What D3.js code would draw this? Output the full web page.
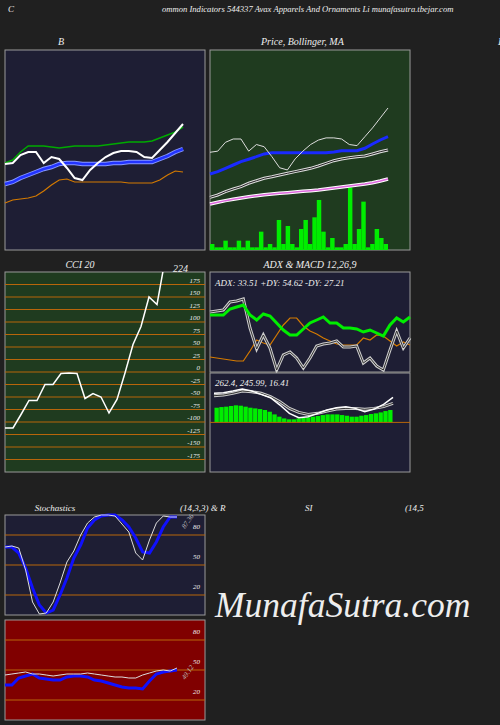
<!DOCTYPE html>
<html><head><meta charset="utf-8">
<script src="https://cdn.jsdelivr.net/npm/d3@7"></script>
<style>body{margin:0;background:#202020}svg{display:block}text{font-family:"Liberation Serif",serif;font-style:italic;fill:#eee}</style>
</head><body>
<script>
// price panel data (24 sessions)
const price=[86,87,95,98,98,87,93,91,82,72,70,80,87,93,97,99,99,98,93,92,100,108,117,126];
const bbUpper=[87,90,98,104,104,104,103,102,103,104,104,104,104,105,106,107,108,108,108,109,112,115,118,123];
const bbMiddle=[66,68,72,75,78,81,83,86,87,87,86,86,86,86,87,87,88,88,88,88,91,94,98,101];
const bbLower=[47,50,51,52,54,59,65,70,71,68,68,68,68,68,68,68,67,67,67,67,70,75,79,78];
const ma20=[66.4,68.5,71.5,74.5,77.5,79.7,82,84.5,85.6,85.6,85.6,85.6,85.6,85.6,85.6,85.6,86.3,87.4,87.4,87.4,89.6,93.5,97.1,100.1];
const ma50=[45.3,47.4,50.4,52.8,54.9,58,60.3,62.5,63.9,65.5,67,68.5,70,71.5,73.6,76,78.4,79.9,81.1,82,82.6,84.5,86.5,88.1];
const ma100=[39.3,40.8,42.3,43.5,44.7,45.9,46.8,47.7,48.3,49,49.5,50.1,50.8,51.3,51.9,52.8,53.7,54.6,55.5,56.4,57.3,58.5,60.1,61.9];
const volume=[18,8,8,28,8,8,28,8,28,8,8,55,8,18,8,90,18,72,18,8,63,90,18,98,150,55,8,36,8,8,18,187,18,63,145,8,18,63,36,18];
// CCI 20
const cci=[-112,-112,-85,-57,-57,-25,-25,-3,-2,-3,-53,-43,-50,-82,-55,-2,55,91,150,135,224];
const cciTicks=[175,150,125,100,75,50,25,0,-25,-50,-75,-100,-125,-150,-175];
// ADX
const plusDI=[57,57,57,63,65,67,57,52,58,56,49,42,37,37,43,49,52,55,49,49,44,44,43,40,42,39,36,47,54,50,55];
const minusDI=[15,14,13,12,11,11,21,32,29,27,37,47,54,54,46,41,38,34,31,28,27,27,27,34,32,37,36,31,26,30,27];
const adx=[60,61,62,70,71,73,44,23,37,24,2,17,20,14,4,14,26,28,29,31,25,25,26,9,14,6,2,22,41,24,34];
// MACD 12,26,9
const macd=[305,312,329,350,329,294,259,182,95,49,60,95,130,154,165,147,112,140,189,262];
const signal=[280,287,305,329,322,305,270,217,147,105,84,95,119,140,147,147,137,147,165,200];
const hist=[154,161,165,172,179,175,165,154,147,140,130,112,84,60,42,32,32,42,49,53,60,67,77,84,84,84,77,70,60,60,70,77,88,95,105,119,130];
// Stochastics and RSI
const stochK=[68,69,67,45,13,1,2,13,32,53,64,80,92,98,100,100,99,91,83,62,55,75,92,99,98,98];
const stochD=[68,68,62,47,27,10,2,5,20,37,57,70,87,95,99,100,100,95,88,77,63,62,73,88,98,98];
const rsi=[45,46,47,48,46,46,45,44,45,46,46,46,47,46,45,44,43,43,42,42,45,47,49,50,49,52];
const mfi=[35,35,42,44,46,42,41,40,40,43,44,44,43,40,39,37,35,33,32,32,31,39,46,48,49,50];
const levels=[80,50,20];

const svg=d3.select("body").append("svg").attr("width",500).attr("height",725);
const orange="#b8660b";

function panel(x,y,w,h,fill){
 svg.append("rect").attr("x",x).attr("y",y).attr("width",w).attr("height",h).attr("fill",fill).attr("stroke","#999").attr("stroke-width",1);
}
function text(x,y,t,size=11,anchor="start",fill="#eee"){
 return svg.append("text").attr("x",x).attr("y",y).attr("font-size",size).attr("text-anchor",anchor).style("fill",fill).text(t);
}
function line(data,xs,ys,color,width,dbl){
 const gen=d3.line().x((d,i)=>xs(i)).y(d=>ys(d));
 if(dbl){svg.append("path").attr("d",gen(data)).attr("fill","none").attr("stroke",dbl).attr("stroke-width",width+2);}
 svg.append("path").attr("d",gen(data)).attr("fill","none").attr("stroke",color).attr("stroke-width",width);
}

// titles
text(8,12,"C",9);
text(162,12,"ommon  Indicators 544337 Avax Apparels And Ornaments Li  munafasutra.tbejar.com",8.6);
text(58,45,"B",10);
text(261,45,"Price,  Bollinger,  MA",10);
text(498,45,"I",10);
text(80,268,"CCI 20",10,"middle");
text(310,268,"ADX   & MACD 12,26,9",10,"middle");
text(55,511,"Stochastics",9,"middle");
text(180,511,"(14,3,3) & R",9);
text(305,511,"SI",9);
text(405,511,"(14,5",9);

// Bollinger panel
panel(5,50,200,200,"#1e1e34");
const xb=d3.scaleLinear().domain([0,23]).range([5,183]);
const yb=d3.scaleLinear().domain([0,200]).range([250,50]);
line(bbUpper,xb,yb,"#0a0",1.5);
line(bbLower,xb,yb,"#d47a00",1.2);
line(bbMiddle,xb,yb,"#2233ff",2.5,"#8899ff");
line(price,xb,yb,"#fff",2);

// price / MA panel
panel(210,50,200,200,"#1f3b1f");
const xp=d3.scaleLinear().domain([0,23]).range([210,388]);
const yp=d3.scaleLinear().domain([-2.3,178.4]).range([250,50]);
const xv=d3.scaleBand().domain(d3.range(volume.length)).range([210,388]);
const yv=d3.scaleLinear().domain([0,200]).range([250,183.3]);
svg.append("g").selectAll("rect").data(volume).join("rect")
 .attr("x",(d,i)=>xv(i)).attr("width",xv.bandwidth()).attr("y",d=>yv(d)).attr("height",d=>250-yv(d)).attr("fill","#00ee00");
line(ma100,xp,yp,"#dd66dd",1.5,"#fff");
line(ma50,xp,yp,"#222",1,"#ddd");
line(ma20,xp,yp,"#1a2aff",3);
line(price,xp,yp,"#ddd",1);

// CCI panel
panel(5,272,200,200,"#1f3b1f");
const yc=d3.scaleLinear().domain([-200,200]).range([472,272]);
const xc=d3.scaleLinear().domain([0,25]).range([5,205]);
svg.append("g").selectAll("line").data(cciTicks).join("line")
 .attr("x1",5).attr("x2",205).attr("y1",d=>yc(d)).attr("y2",d=>yc(d)).attr("stroke",orange).attr("stroke-width",1);
svg.append("g").selectAll("text").data(cciTicks).join("text")
 .attr("x",200).attr("y",d=>yc(d)-2).attr("text-anchor","end").attr("font-size",7).text(d=>d);
svg.append("clipPath").attr("id","cc").append("rect").attr("x",5).attr("y",272).attr("width",200).attr("height",200);
svg.append("path").attr("clip-path","url(#cc)").attr("d",d3.line().x((d,i)=>xc(i)).y(d=>yc(d))(cci))
 .attr("fill","none").attr("stroke","#fff").attr("stroke-width",1.5);
text(173,272,String(cci[cci.length-1]),10);

// ADX panel
panel(210,272,200,100,"#1e1e34");
const xa=d3.scaleLinear().domain([0,30]).range([210,410]);
const ya=d3.scaleLinear().domain([0,100]).range([372,272]);
line(minusDI,xa,ya,"#d47a00",1.2);
line(adx,xa,ya,"#333",1,"#ccc");
line(plusDI,xa,ya,"#00ee00",3);
text(215,286,"ADX: 33.51 +DY: 54.62  -DY: 27.21",9);

// MACD panel
panel(210,373,200,99,"#1e1e34");
const ym=d3.scaleLinear().domain([-520,518]).range([472,373]);
const xh=d3.scaleBand().domain(d3.range(hist.length)).range([214,393]).padding(0.1);
svg.append("g").selectAll("rect").data(hist).join("rect")
 .attr("x",(d,i)=>xh(i)).attr("width",xh.bandwidth()).attr("y",d=>ym(d)).attr("height",d=>ym(0)-ym(d)).attr("fill","#00ee00");
svg.append("line").attr("x1",210).attr("x2",410).attr("y1",ym(0)).attr("y2",ym(0)).attr("stroke",orange);
const xm=d3.scaleLinear().domain([0,19]).range([214,393]);
line(signal,xm,ym,"#333",1,"#ccc");
line(macd,xm,ym,"#fff",1.5);
text(215,386,"262.4,  245.99,  16.41",9);

// Stochastics and RSI panels
function osc(y0,fill,a,b,label){
 panel(5,y0,200,100,fill);
 const ys=d3.scaleLinear().domain([0,100]).range([y0+100,y0]);
 const xs=d3.scaleLinear().domain([0,25]).range([5,177]);
 svg.append("g").selectAll("line").data(levels).join("line")
  .attr("x1",5).attr("x2",205).attr("y1",d=>ys(d)).attr("y2",d=>ys(d)).attr("stroke",orange);
 svg.append("g").selectAll("text").data(levels).join("text")
  .attr("x",200).attr("y",d=>ys(d)-6).attr("text-anchor","end").attr("font-size",7).text(d=>d);
 line(b,xs,ys,"#1010ff",3);
 line(a,xs,ys,"#ddd",1);
 svg.append("text").attr("transform",`translate(185,${ys(a[a.length-1])+12}) rotate(-55)`)
  .attr("font-size",7).style("fill","#bbb").text(label);
}
osc(515,"#1e1e34",stochK,stochD,"87.36");
osc(620,"#800000",rsi,mfi,"49.12");

text(215,617,"MunafaSutra.com",35.5);
</script>
</body></html>
